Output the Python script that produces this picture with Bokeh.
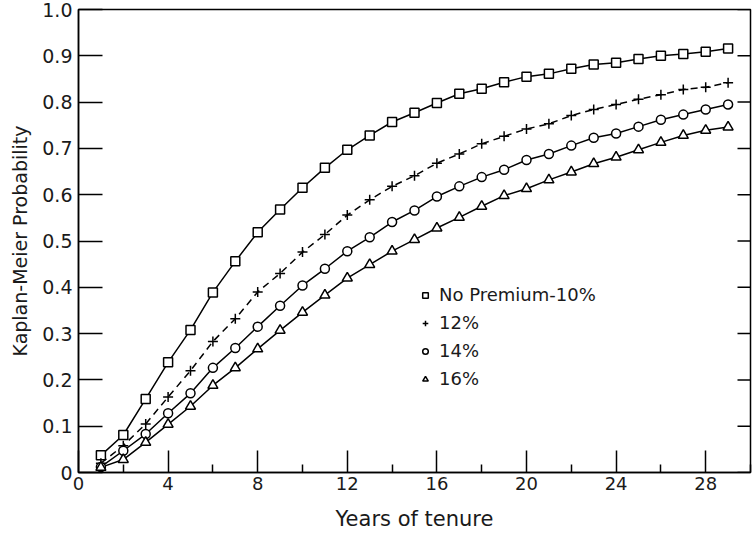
import numpy as np
from bokeh.plotting import figure
from bokeh.models import Legend, LegendItem, FixedTicker, Range1d
from bokeh.embed import file_html
from bokeh.resources import INLINE

# ---- data ----
years = list(range(1, 30))
no_premium_10 = [0.037, 0.081, 0.159, 0.238, 0.308, 0.389, 0.456, 0.519, 0.568, 0.615,
                 0.658, 0.697, 0.728, 0.757, 0.777, 0.798, 0.818, 0.829, 0.843, 0.855,
                 0.861, 0.872, 0.881, 0.885, 0.893, 0.900, 0.904, 0.909, 0.916]
pct_12 = [0.020, 0.058, 0.105, 0.163, 0.220, 0.283, 0.332, 0.390, 0.430, 0.476,
          0.514, 0.556, 0.589, 0.618, 0.641, 0.668, 0.688, 0.710, 0.726, 0.742,
          0.753, 0.771, 0.784, 0.795, 0.806, 0.816, 0.827, 0.832, 0.842]
pct_14 = [0.012, 0.047, 0.083, 0.128, 0.171, 0.226, 0.269, 0.315, 0.360, 0.404,
          0.440, 0.478, 0.508, 0.541, 0.566, 0.596, 0.618, 0.638, 0.654, 0.675,
          0.688, 0.706, 0.723, 0.732, 0.747, 0.762, 0.773, 0.784, 0.795]
pct_16 = [0.011, 0.028, 0.065, 0.104, 0.143, 0.188, 0.226, 0.267, 0.307, 0.346,
          0.383, 0.420, 0.449, 0.478, 0.503, 0.528, 0.551, 0.575, 0.598, 0.613,
          0.632, 0.649, 0.667, 0.681, 0.697, 0.713, 0.728, 0.739, 0.746]
series_labels = ["No Premium-10%", "12%", "14%", "16%"]
x_ticks = [0, 4, 8, 12, 16, 20, 24, 28]
x_minor = [2, 6, 10, 14, 18, 22, 26, 30]
y_ticks = [0, 0.1, 0.2, 0.3, 0.4, 0.5, 0.6, 0.7, 0.8, 0.9, 1.0]
X_MAX = 30

FONT = "DejaVu Sans"
TXT = "#1a1a1a"

p = figure(width=756, height=533, output_backend="svg", toolbar_location=None,
           x_range=Range1d(0, X_MAX), y_range=Range1d(0, 1),
           min_border_left=78, min_border_right=6, min_border_top=9, min_border_bottom=61)
p.grid.visible = False
p.outline_line_color = "black"
p.outline_line_width = 1.5
p.background_fill_color = "white"

xa = p.xaxis[0]
xa.ticker = FixedTicker(ticks=x_ticks, minor_ticks=x_minor)
xa.major_tick_in = 22
xa.major_tick_out = 0
xa.minor_tick_in = 8
xa.minor_tick_out = 0
xa.axis_line_width = 1.5
xa.major_tick_line_width = 1.5
xa.minor_tick_line_width = 1.5
xa.major_label_text_font = FONT
xa.major_label_text_font_size = "18px"
xa.major_label_text_color = TXT
xa.major_label_standoff = 4
xa.axis_label = "Years of tenure"
xa.axis_label_text_font = FONT
xa.axis_label_text_font_size = "21px"
xa.axis_label_text_font_style = "normal"
xa.axis_label_text_color = TXT
xa.axis_label_standoff = 14

ya = p.yaxis[0]
ya.ticker = FixedTicker(ticks=y_ticks)
ya.major_tick_in = 24
ya.major_tick_out = 0
ya.minor_tick_line_color = None
ya.axis_line_width = 1.5
ya.major_tick_line_width = 1.5
ya.major_label_overrides = {0: "0", 1: "1.0"}
ya.major_label_text_font = FONT
ya.major_label_text_font_size = "19px"
ya.major_label_text_color = TXT
ya.major_label_standoff = 6
ya.axis_label = "Kaplan-Meier Probability"
ya.axis_label_text_font = FONT
ya.axis_label_text_font_size = "19px"
ya.axis_label_text_font_style = "normal"
ya.axis_label_text_color = TXT
ya.axis_label_standoff = 8

# inward ticks on the right-hand frame edge
p.ray(x=[X_MAX] * len(y_ticks), y=y_ticks, length=13, length_units="screen",
      angle=np.pi, line_color="black", line_width=1.5)

series = [no_premium_10, pct_12, pct_14, pct_16]
markers = ["square", "cross", "circle", "triangle"]
sizes = [9, 10, 9, 10]
dashes = ["solid", "7 5", "solid", "solid"]

items = []
for vals, dash in zip(series, dashes):
    p.line(years, vals, line_color="black", line_width=1.5, line_dash=dash)
for vals, mk, sz, lab in zip(series, markers, sizes, series_labels):
    r = p.scatter(years, vals, marker=mk, size=sz, fill_color="white",
                  line_color="black", line_width=1.5)
    items.append(LegendItem(label=lab, renderers=[r]))

leg = Legend(items=items, location=(340, 83), border_line_color=None,
             background_fill_alpha=0, padding=0, margin=0, spacing=7,
             glyph_width=14, glyph_height=20, label_height=20, label_standoff=7,
             label_text_font=FONT, label_text_font_size="18px", label_text_color=TXT)
p.add_layout(leg, "center")

open("out.html", "w").write(file_html(p, INLINE))
